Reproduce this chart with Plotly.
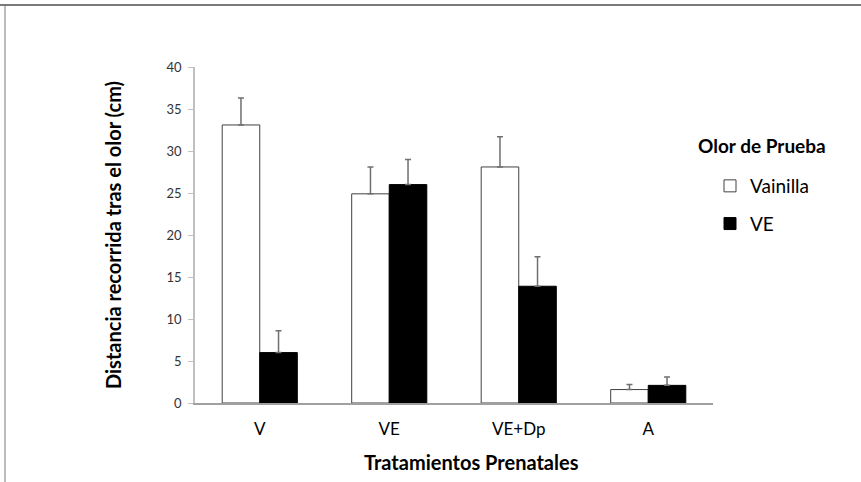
import plotly.graph_objects as go

# Prenatal treatment groups and test-odour results (mean distance, cm)
tratamientos = ["V", "VE", "VE+Dp", "A"]
vainilla = [33.1, 24.9, 28.1, 1.6]
vainilla_err = [3.2, 3.2, 3.6, 0.6]
ve = [6.0, 26.0, 13.9, 2.1]
ve_err = [2.6, 3.0, 3.5, 1.0]
y_ticks = [0, 5, 10, 15, 20, 25, 30, 35, 40]

W, H = 861, 482
L, R, T, B = 195, 148, 67, 79
FONT = "Lato, Open Sans, sans-serif"

fig = go.Figure()
fig.add_trace(go.Bar(
    name="Vainilla", x=tratamientos, y=vainilla, legendgroup="vainilla",
    marker=dict(color="white", line=dict(color="#404040", width=1)),
    error_y=dict(type="data", array=vainilla_err, symmetric=False,
                 arrayminus=[0] * len(vainilla_err),
                 color="#6f6f6f", thickness=1.5, width=3),
))
fig.add_trace(go.Bar(
    name="VE", x=tratamientos, y=ve, legendgroup="ve",
    marker=dict(color="black", line=dict(color="black", width=1)),
    error_y=dict(type="data", array=ve_err, symmetric=False,
                 arrayminus=[0] * len(ve_err),
                 color="#6f6f6f", thickness=1.5, width=3),
))

# Pixel -> paper coordinate helpers
px_to_paper_x = lambda px: (px - L) / (W - L - R)
px_to_paper_y = lambda py: (H - B - py) / (H - T - B)

# Frame lines along the top and left edges of the page
fig.add_shape(type="line", xref="paper", yref="paper",
              x0=px_to_paper_x(0), x1=px_to_paper_x(W),
              y0=px_to_paper_y(5), y1=px_to_paper_y(5),
              line=dict(color="#7a7a7a", width=2))
fig.add_shape(type="line", xref="paper", yref="paper",
              x0=px_to_paper_x(5), x1=px_to_paper_x(5),
              y0=px_to_paper_y(5), y1=px_to_paper_y(H),
              line=dict(color="#7a7a7a", width=1))

# Legend heading
fig.add_annotation(
    text="<b>Olor de Prueba</b>", xref="paper", yref="paper",
    x=px_to_paper_x(696), xanchor="left",
    y=px_to_paper_y(145), yanchor="middle",
    showarrow=False, font=dict(size=19, color="black"),
)

# Horizontal axis title, set slightly right of the plot centre
fig.add_annotation(
    text="<b>Tratamientos Prenatales</b>", xref="paper", yref="paper",
    x=px_to_paper_x(471), xanchor="center",
    y=px_to_paper_y(462), yanchor="middle",
    showarrow=False, font=dict(size=20, color="black"),
)

fig.update_layout(
    width=W, height=H,
    margin=dict(l=L, r=R, t=T, b=B),
    paper_bgcolor="white", plot_bgcolor="white",
    barmode="group", bargap=0.42, bargroupgap=0,
    font=dict(family=FONT, color="#222"),
    showlegend=True,
    legend=dict(
        x=px_to_paper_x(710), xanchor="left",
        y=px_to_paper_y(167), yanchor="top",
        font=dict(size=19, color="black"),
        traceorder="grouped", tracegroupgap=10,
        bgcolor="rgba(0,0,0,0)",
    ),
    xaxis=dict(
        showline=True, linecolor="#a0a0a0", linewidth=1.5,
        ticks="", tickfont=dict(size=17, color="black"),
        ticklabelstandoff=10,
    ),
    yaxis=dict(
        range=[0, 40], tickvals=y_ticks,
        showline=True, linecolor="#c0c0c0", linewidth=1.5,
        ticks="outside", ticklen=5, tickcolor="#c0c0c0",
        ticklabelstandoff=4,
        showgrid=False, zeroline=False,
        tickfont=dict(size=13, color="#333"),
        title=dict(text="<b>Distancia recorrida tras el olor (cm)</b>",
                   font=dict(size=20, color="black"), standoff=40),
    ),
)

fig.write_html("out.html")
